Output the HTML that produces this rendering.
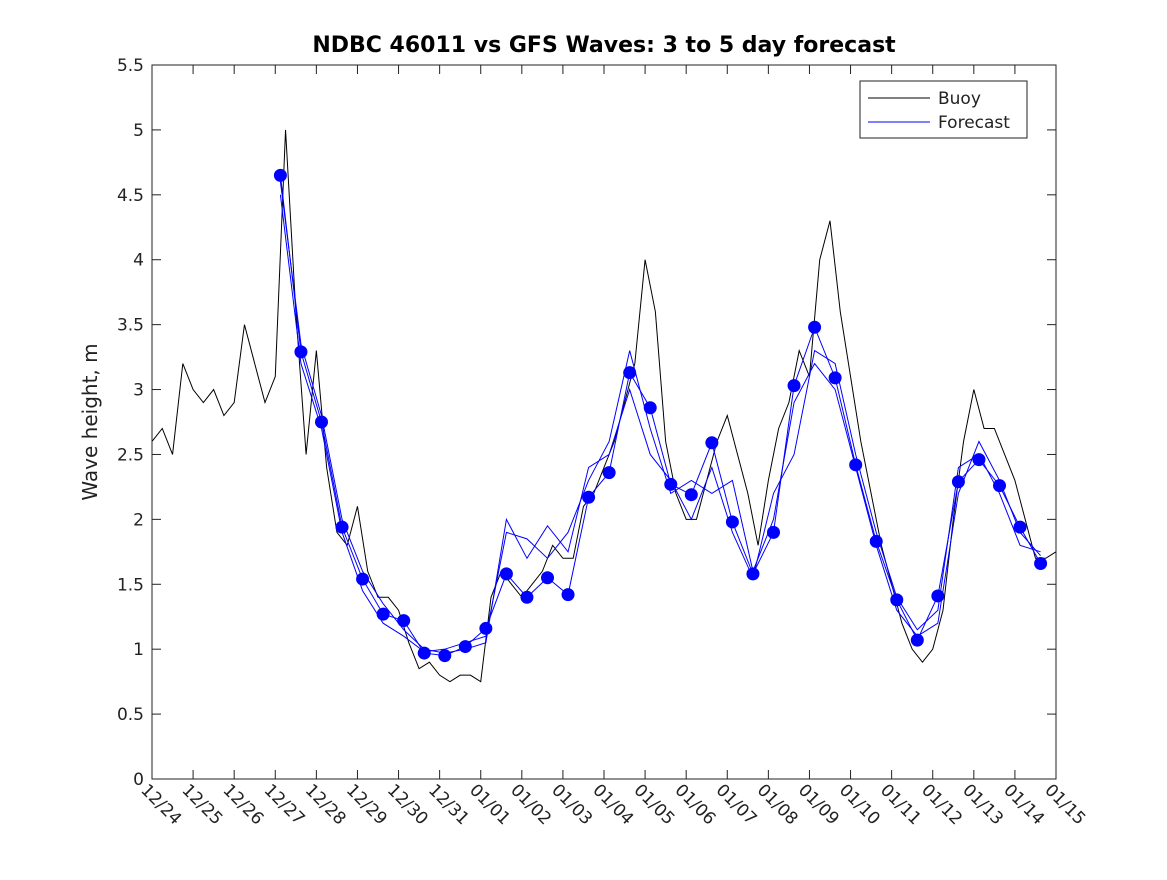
<!DOCTYPE html>
<html><head><meta charset="utf-8"><style>
body{margin:0;background:#fff;}
svg text{font-family:"DejaVu Sans","Liberation Sans",sans-serif;}
</style></head><body>
<svg id="chart" width="1167" height="875" xmlns="http://www.w3.org/2000/svg">
<rect width="1167" height="875" fill="#fff"/>
<text x="604" y="52" text-anchor="middle" font-size="22" font-weight="bold" fill="#000">NDBC 46011 vs GFS Waves: 3 to 5 day forecast</text>
<text transform="translate(97,422) rotate(-90)" text-anchor="middle" font-size="20" fill="#222">Wave height, m</text>
<g id="axes"></g>
<g id="marks"></g>
<rect x="152" y="65" width="904" height="714" fill="none" stroke="#222" stroke-width="1"/>
<g>
<rect x="860" y="81" width="167" height="57" fill="#fff" stroke="#222"/>
<line x1="868" y1="98" x2="930" y2="98" stroke="#000"/>
<text x="938" y="104" font-size="17" fill="#222">Buoy</text>
<line x1="868" y1="122" x2="930" y2="122" stroke="#00f"/>
<text x="938" y="128" font-size="17" fill="#222">Forecast</text>
</g>
</svg>
<script>
const xTickLabels=["12/24","12/25","12/26","12/27","12/28","12/29","12/30","12/31","01/01","01/02","01/03","01/04","01/05","01/06","01/07","01/08","01/09","01/10","01/11","01/12","01/13","01/14","01/15"];
const yTicks=[0,0.5,1,1.5,2,2.5,3,3.5,4,4.5,5,5.5];
const buoyStep=0.25;
const buoy=[2.6,2.7,2.5,3.2,3.0,2.9,3.0,2.8,2.9,3.5,3.2,2.9,3.1,5.0,3.6,2.5,3.3,2.4,1.9,1.8,2.1,1.6,1.4,1.4,1.3,1.05,0.85,0.9,0.8,0.75,0.8,0.8,0.75,1.4,1.6,1.5,1.4,1.5,1.6,1.8,1.7,1.7,2.1,2.2,2.4,2.6,2.9,3.2,4.0,3.6,2.6,2.2,2.0,2.0,2.3,2.6,2.8,2.5,2.2,1.8,2.3,2.7,2.9,3.3,3.1,4.0,4.3,3.6,3.1,2.6,2.2,1.8,1.5,1.2,1.0,0.9,1.0,1.3,2.0,2.6,3.0,2.7,2.7,2.5,2.3,2.0,1.7,1.7,1.75];
const fcStart=3.125, fcStep=0.5;
const forecast=[4.65,3.29,2.75,1.94,1.54,1.27,1.22,0.97,0.95,1.02,1.16,1.58,1.40,1.55,1.42,2.17,2.36,3.13,2.86,2.27,2.19,2.59,1.98,1.58,1.90,3.03,3.48,3.09,2.42,1.83,1.38,1.07,1.41,2.29,2.46,2.26,1.94,1.66];
const forecastRun2=[4.5,3.2,2.7,1.9,1.45,1.2,1.1,0.98,1.0,1.05,1.1,1.9,1.85,1.7,1.9,2.3,2.6,3.3,2.7,2.2,2.3,2.2,2.3,1.6,2.0,2.9,3.2,3.0,2.4,1.8,1.3,1.1,1.2,2.2,2.6,2.3,1.9,1.72];
const forecastRun3=[4.6,3.35,2.8,2.0,1.6,1.35,1.15,1.0,0.97,1.0,1.05,2.0,1.7,1.95,1.75,2.4,2.5,3.0,2.5,2.3,2.0,2.4,1.9,1.55,2.2,2.5,3.3,3.2,2.5,1.9,1.4,1.15,1.3,2.4,2.5,2.2,1.8,1.75];
const X0=152,X1=1056,Y0=779,Y1=65;
const xs=d=>X0+(X1-X0)*d/22;
const ys=v=>Y0-(Y0-Y1)*v/5.5;
const NS="http://www.w3.org/2000/svg";
const axes=document.getElementById('axes'),marks=document.getElementById('marks');
function mk(tag,attrs,parent){const e=document.createElementNS(NS,tag);for(const k in attrs)e.setAttribute(k,attrs[k]);parent.appendChild(e);return e;}
yTicks.forEach(v=>{
  const y=ys(v);
  const t=mk('line',{x1:X0,x2:X0+9,y1:y,y2:y,stroke:'#222'},axes);
  
  
  const t2=mk('line',{x1:X1-9,x2:X1,y1:y,y2:y,stroke:'#222'},axes);
  
  
  const l=mk('text',{x:X0-8,y:y+6,'text-anchor':'end','font-size':'17',fill:'#222'},axes);
  l.textContent=String(v);
  
  
});
xTickLabels.forEach((s,i)=>{
  const x=xs(i);
  const t=mk('line',{x1:x,x2:x,y1:Y0,y2:Y0-9,stroke:'#222'},axes);
  
  
  const t2=mk('line',{x1:x,x2:x,y1:Y1,y2:Y1+9,stroke:'#222'},axes);
  
  
  const l=mk('text',{transform:`translate(${x-12},${Y0+12}) rotate(45)`,'text-anchor':'start','font-size':'17',fill:'#222'},axes);
  l.textContent=s;
  
  
});
const bp=mk('polyline',{points:buoy.map((v,i)=>`${xs(i*buoyStep)},${ys(v)}`).join(' '),fill:'none',stroke:'#000','stroke-width':1},marks);


[forecastRun2,forecastRun3,forecast].forEach((arr,j)=>{
  const p=mk('polyline',{points:arr.map((v,i)=>`${xs(fcStart+i*fcStep)},${ys(v)}`).join(' '),fill:'none',stroke:'#00f','stroke-width':1},marks);
  
  
});
forecast.forEach((v,i)=>{
  const c=mk('circle',{cx:xs(fcStart+i*fcStep),cy:ys(v),r:6.5,fill:'#00f'},marks);
  
  
});
</script>
</body></html>
